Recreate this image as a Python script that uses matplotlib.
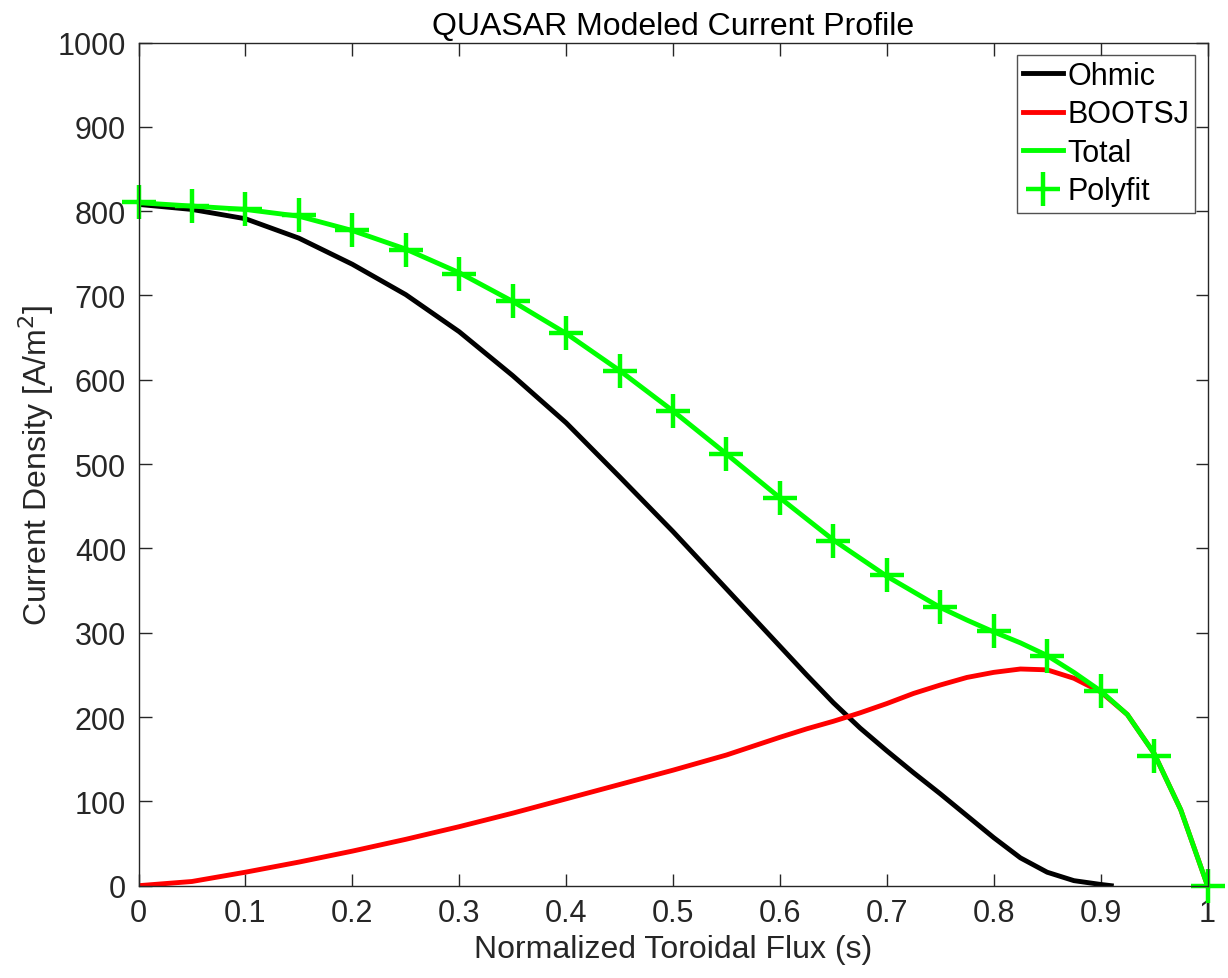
import matplotlib
matplotlib.use("Agg")
import matplotlib.pyplot as plt

# Ohmic current profile (black)
sOhmic = [0, 0.05, 0.1, 0.15, 0.2, 0.25, 0.3, 0.35, 0.4, 0.45, 0.5, 0.55, 0.6,
          0.625, 0.65, 0.675, 0.7, 0.725, 0.75, 0.775, 0.8, 0.825, 0.85, 0.875, 0.9, 0.91]
jOhmic = [808, 802, 791, 768, 737, 701, 657, 605, 549, 485, 420, 352, 284,
          250, 217, 187, 160, 134, 109, 83, 57, 33, 16, 6, 1.5, 0]

# bootstrap current (red)
sBoot = [0, 0.05, 0.1, 0.15, 0.2, 0.25, 0.3, 0.35, 0.4, 0.45, 0.5, 0.55, 0.6,
         0.625, 0.65, 0.675, 0.7, 0.725, 0.75, 0.775, 0.8, 0.825, 0.85, 0.875,
         0.9, 0.925, 0.95, 0.975, 1.0]
jBoot = [0, 5, 16, 28, 41, 55, 70, 86, 103, 120, 137, 155, 176,
         186, 195, 205, 216, 228, 238, 247, 253, 257, 256, 246,
         230, 203, 157, 90, 0]

# total (green line)
sTotal = [0, 0.05, 0.1, 0.15, 0.2, 0.25, 0.3, 0.35, 0.4, 0.45, 0.5, 0.55, 0.6,
          0.65, 0.7, 0.75, 0.775, 0.8, 0.825, 0.85, 0.875, 0.9, 0.925, 0.95, 0.975, 1.0]
jTotal = [810, 806, 802, 794, 777, 755, 727, 693, 655, 611, 563, 512, 460,
          410, 367, 330, 315, 301, 288, 273, 253, 231, 203, 157, 90, 0]

# polyfit markers (green +)
sFit = [0, 0.05, 0.1, 0.15, 0.2, 0.25, 0.3, 0.35, 0.4, 0.45, 0.5, 0.55, 0.6,
        0.65, 0.7, 0.75, 0.8, 0.85, 0.9, 0.95, 1.0]
jFit = [811, 806, 803, 795, 778, 754, 726, 694, 656, 611, 563, 512, 460,
        409, 368, 330, 302, 273, 231, 154, 0]

xTicks = [0, 0.1, 0.2, 0.3, 0.4, 0.5, 0.6, 0.7, 0.8, 0.9, 1.0]
xTickLabels = ["0", "0.1", "0.2", "0.3", "0.4", "0.5", "0.6", "0.7", "0.8", "0.9", "1"]
yTicks = [0, 100, 200, 300, 400, 500, 600, 700, 800, 900, 1000]

plt.rcParams["font.family"] = ["Liberation Sans", "DejaVu Sans"]
axisGray = "#262626"
green = "#00ff00"

fig = plt.figure(figsize=(12.28, 9.79), dpi=100)
ax = fig.add_axes([138.5 / 1228, 1 - 886.7 / 979, 1069 / 1228, 843.2 / 979])

ax.plot(sOhmic, jOhmic, color="black", lw=3.5, label="Ohmic")
ax.plot(sBoot, jBoot, color="red", lw=3.5, label="BOOTSJ")
ax.plot(sTotal, jTotal, color=green, lw=3.5, label="Total")
ax.plot(sFit, jFit, linestyle="none", marker="+", markersize=24, mew=3.2,
        color=green, label="Polyfit", clip_on=False)

ax.set_xlim(0, 1)
ax.set_ylim(0, 1000)
ax.set_xticks(xTicks)
ax.set_xticklabels(xTickLabels)
ax.set_yticks(yTicks)

ax.tick_params(direction="in", length=9, width=1, colors=axisGray,
               labelsize=22, top=True, right=True)
ax.tick_params(axis="x", pad=9)
ax.tick_params(axis="y", pad=9)
for sp in ax.spines.values():
    sp.set_color(axisGray)
    sp.set_linewidth(1)

ax.set_xlabel("Normalized Toroidal Flux (s)", fontsize=23, color=axisGray, labelpad=4)
ax.set_ylabel("Current Density [A/m$^2$]", fontsize=23, color=axisGray, labelpad=1)
ax.set_title("QUASAR Modeled Current Profile", fontsize=23, color="black", pad=6)

leg = ax.legend(loc="upper right", fontsize=22, frameon=True, fancybox=False,
                handlelength=1.3, handletextpad=0.15, borderaxespad=0.4,
                borderpad=0.2, labelspacing=0.28)
leg.get_frame().set_edgecolor(axisGray)
leg.get_frame().set_linewidth(1)

fig.savefig("out.png", dpi=100)
